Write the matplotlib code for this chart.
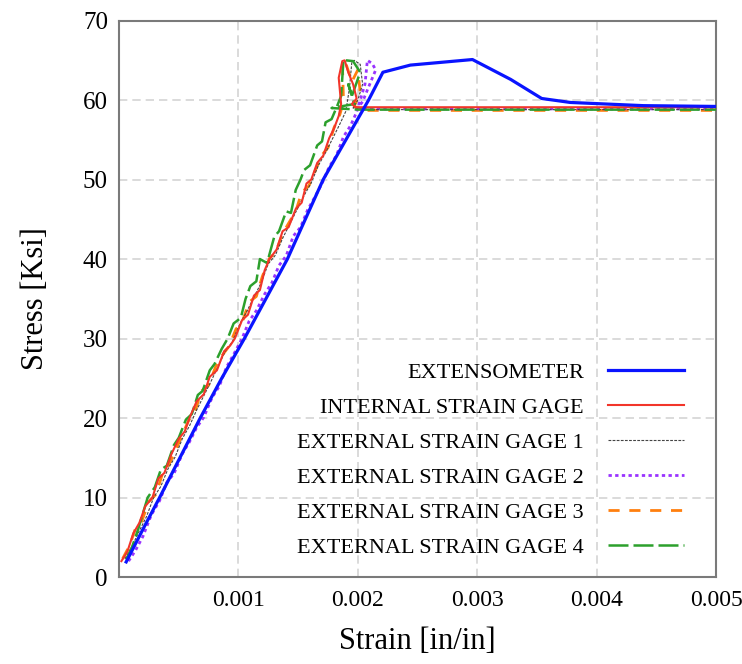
import matplotlib
matplotlib.use('Agg')
import matplotlib.pyplot as plt

plt.rcParams['font.family'] = ['Liberation Serif', 'DejaVu Serif']

# strain values are in units of 1e-3 in/in, stress in ksi
ext_strain = [0.06, 0.20, 0.34, 0.51, 0.68, 0.86, 1.05, 1.23, 1.41, 1.56, 1.71, 1.90, 2.09, 2.21,
              2.44, 2.96, 3.28, 3.54, 3.78, 4.39, 5.00]
ext_stress = [1.9, 6.0, 10.0, 15.0, 20.0, 25.0, 30.0, 35.0, 40.0, 45.0, 50.0, 55.0, 60.0, 63.5,
              64.4, 65.1, 62.6, 60.2, 59.7, 59.3, 59.2]

int_strain = [0.02, 0.07, 0.12, 0.17, 0.22, 0.28, 0.33, 0.38, 0.44, 0.50, 0.55, 0.59, 0.65, 0.71,
              0.76, 0.82, 0.88, 0.93, 0.97, 1.03, 1.08, 1.13, 1.18, 1.22, 1.26, 1.32, 1.37, 1.42,
              1.48, 1.53, 1.57, 1.61, 1.66, 1.71, 1.76, 1.80, 1.84, 1.86, 1.84, 1.87, 1.89, 1.92,
              1.96, 1.99, 1.95, 1.98, 2.10, 5.00]
int_stress = [2.0, 3.2, 5.5, 6.8, 8.9, 10.0, 12.4, 13.1, 15.5, 17.4, 18.3, 20.0, 22.1, 23.0,
              25.2, 26.0, 28.4, 29.1, 30.0, 32.3, 33.0, 35.4, 36.1, 38.6, 40.0, 41.2, 43.5, 44.0,
              46.3, 47.1, 49.5, 50.0, 52.1, 53.0, 55.2, 56.4, 58.0, 59.5, 62.8, 64.9, 65.0, 63.5,
              62.0, 60.2, 59.5, 59.1, 59.1, 59.1]

g1_strain = [0.05, 0.11, 0.17, 0.23, 0.29, 0.35, 0.41, 0.47, 0.53, 0.59, 0.65, 0.71, 0.77, 0.83,
             0.89, 0.95, 1.01, 1.07, 1.13, 1.19, 1.25, 1.31, 1.37, 1.43, 1.49, 1.55, 1.61, 1.67,
             1.73, 1.79, 1.85, 1.90, 1.93, 1.95, 1.97, 2.02, 2.04, 2.00, 1.96, 2.10, 5.00]
g1_stress = [2.3, 3.9, 5.8, 7.6, 10.0, 11.4, 13.6, 15.1, 17.4, 19.0, 21.0, 22.8, 24.6, 26.5,
             28.4, 29.6, 31.8, 33.4, 35.2, 37.0, 39.4, 40.5, 42.6, 44.4, 46.2, 48.0, 49.6, 51.8,
             53.4, 55.2, 57.0, 58.6, 61.5, 64.8, 65.0, 64.5, 62.0, 60.0, 59.0, 58.8, 58.8]

g2_strain = [0.08, 0.14, 0.20, 0.27, 0.34, 0.40, 0.46, 0.53, 0.59, 0.65, 0.71, 0.78, 0.84, 0.90,
             0.96, 1.03, 1.09, 1.15, 1.22, 1.28, 1.34, 1.40, 1.46, 1.52, 1.58, 1.64, 1.70, 1.76,
             1.82, 1.88, 1.94, 1.99, 2.03, 2.06, 2.08, 2.12, 2.15, 2.10, 2.04, 2.00, 2.10, 5.00]
g2_stress = [2.0, 3.4, 5.1, 7.8, 9.6, 11.9, 13.0, 15.5, 17.0, 18.8, 20.1, 22.6, 24.0, 26.4,
             28.0, 30.0, 32.2, 33.5, 35.6, 37.0, 39.2, 40.4, 42.9, 44.0, 46.2, 47.8, 49.5, 51.6,
             53.0, 55.4, 56.8, 58.5, 60.5, 62.0, 65.0, 64.6, 63.8, 62.0, 59.8, 59.0, 58.9, 58.9]

g3_strain = [0.03, 0.09, 0.14, 0.19, 0.25, 0.31, 0.36, 0.42, 0.47, 0.53, 0.58, 0.64, 0.69, 0.75,
             0.81, 0.86, 0.92, 0.98, 1.03, 1.09, 1.15, 1.20, 1.26, 1.31, 1.37, 1.42, 1.48, 1.53,
             1.59, 1.64, 1.70, 1.75, 1.80, 1.85, 1.88, 1.87, 1.90, 1.95, 2.00, 2.02, 1.97, 2.05, 5.00]
g3_stress = [2.3, 4.0, 6.2, 7.0, 9.5, 10.4, 12.8, 14.2, 15.8, 17.9, 19.6, 21.0, 23.4, 24.1,
             26.5, 27.8, 29.0, 31.2, 32.0, 34.6, 35.3, 37.8, 40.1, 40.8, 43.2, 44.5, 46.0, 48.4,
             49.2, 51.0, 53.1, 54.0, 56.5, 58.2, 59.8, 65.0, 64.6, 62.3, 63.8, 61.0, 59.2, 58.7, 58.7]

g4_strain = [0.06, 0.11, 0.16, 0.21, 0.24, 0.30, 0.35, 0.40, 0.46, 0.50, 0.56, 0.61, 0.66, 0.70,
             0.76, 0.80, 0.86, 0.91, 0.96, 1.02, 1.06, 1.10, 1.15, 1.18, 1.24, 1.30, 1.34, 1.40,
             1.44, 1.48, 1.52, 1.55, 1.60, 1.66, 1.70, 1.73, 1.78, 1.82, 1.86, 1.88, 1.90, 1.96,
             2.02, 1.95, 1.92, 1.97, 1.78, 2.00, 5.00]
g4_stress = [2.2, 3.8, 6.0, 8.5, 10.0, 11.3, 13.5, 14.0, 16.6, 17.5, 19.8, 20.5, 22.9, 23.4,
             26.0, 26.8, 28.7, 30.0, 31.9, 32.6, 35.0, 36.6, 37.2, 40.0, 39.5, 42.8, 43.5, 46.0,
             45.8, 48.7, 50.0, 51.2, 51.8, 54.3, 54.8, 57.2, 57.6, 59.0, 60.5, 65.1, 65.0, 64.9,
             63.5, 60.5, 62.0, 59.5, 59.0, 58.8, 58.8]

x_ticks = [0.001, 0.002, 0.003, 0.004, 0.005]
x_tick_labels = ['0.001', '0.002', '0.003', '0.004', '0.005']
y_ticks = [0, 10, 20, 30, 40, 50, 60, 70]


def to_strain(vals):
    return [v * 1e-3 for v in vals]


fig = plt.figure(figsize=(7.42, 6.64), dpi=100)
ax = fig.add_axes([0.1604, 0.131, 0.8046, 0.838])

ax.plot(to_strain(ext_strain), ext_stress, color='#0a14ff', lw=2.3, label='EXTENSOMETER', zorder=7)
ax.plot(to_strain(int_strain), int_stress, color='#f2352a', lw=1.5, label='INTERNAL STRAIN GAGE', zorder=6)
ax.plot(to_strain(g1_strain), g1_stress, color='#444444', lw=0.8, dashes=(2.5, 1.2),
        label='EXTERNAL STRAIN GAGE 1', zorder=5)
ax.plot(to_strain(g2_strain), g2_stress, color='#9933ff', lw=2.0, dashes=(1.2, 1.2),
        label='EXTERNAL STRAIN GAGE 2', zorder=4)
ax.plot(to_strain(g3_strain), g3_stress, color='#ff7f0e', lw=2.0, dashes=(4, 3.5),
        label='EXTERNAL STRAIN GAGE 3', zorder=3)
ax.plot(to_strain(g4_strain), g4_stress, color='#2ca02c', lw=1.8, dashes=(8, 2),
        label='EXTERNAL STRAIN GAGE 4', zorder=5)

ax.set_xlim(0, 0.005)
ax.set_ylim(0, 70)
ax.set_xticks(x_ticks)
ax.set_xticklabels(x_tick_labels)
ax.set_yticks(y_ticks)
ax.tick_params(axis='y', length=0, labelsize=18, pad=8)
ax.tick_params(axis='x', length=0, labelsize=17, pad=9)
ax.grid(True, color='#d4d4d4', linestyle=(0, (5, 3)), lw=1.2)
ax.set_axisbelow(True)
for sp in ax.spines.values():
    sp.set_color('#7a7a7a')
    sp.set_linewidth(1.5)

ax.set_xlabel('Strain [in/in]', fontsize=22, labelpad=12)
ax.set_ylabel('Stress [Ksi]', fontsize=22, labelpad=24)

# labels sit to the left of their line samples
ax.legend(loc='lower right', bbox_to_anchor=(0.965, 0.015), frameon=False, markerfirst=False,
          fontsize=16, handlelength=3.4, labelspacing=0.65, borderpad=0, handletextpad=1.1)

plt.savefig('out.png', dpi=100)
